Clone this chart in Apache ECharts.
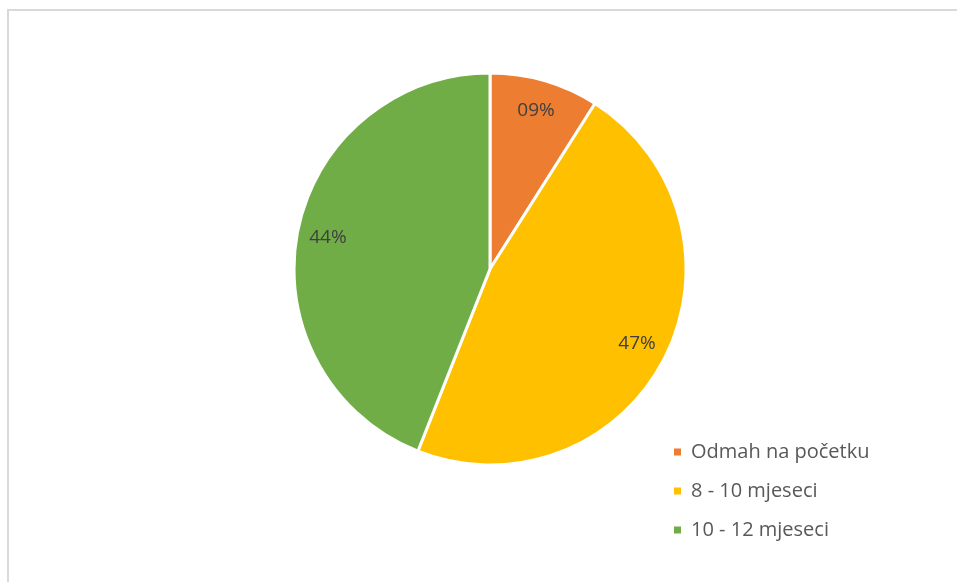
<!DOCTYPE html>
<html><head><meta charset="utf-8">
<script src="https://cdn.jsdelivr.net/npm/echarts@6/dist/echarts.min.js"></script>
<style>html,body{margin:0;padding:0;background:#fff}#c{width:957px;height:582px}</style>
</head><body><div id="c"></div>
<script>
const categories = ['Odmah na početku', '8 - 10 mjeseci', '10 - 12 mjeseci'];
const values = [9, 47, 44];
const colors = ['#ED7D31', '#FFC000', '#70AD47'];

const chart = echarts.init(document.getElementById('c'));
const data = categories.map((n, i) => ({ name: n, value: values[i], itemStyle: { color: colors[i] } }));
const font = 'Open Sans, Liberation Sans, sans-serif';
chart.setOption({
  animation: false,
  graphic: [
    { type: 'rect', shape: { x: 7, y: 9, width: 960, height: 2 }, style: { fill: '#d9d9d9' }, silent: true },
    { type: 'rect', shape: { x: 7, y: 9, width: 2, height: 600 }, style: { fill: '#d9d9d9' }, silent: true }
  ],
  legend: {
    orient: 'vertical', left: 667, top: 437, itemWidth: 9, itemHeight: 9, itemGap: 19,
    icon: 'rect',
    textStyle: { fontFamily: font, fontSize: 20, lineHeight: 20, color: '#595959', padding: [0, 0, 0, 4] },
    data: categories
  },
  series: [
    {
      type: 'pie', center: [490, 269], radius: [0, 196], startAngle: 90, clockwise: true,
      itemStyle: { borderColor: '#fff', borderWidth: 3 },
      label: { show: false }, labelLine: { show: false },
      data: data, silent: true
    },
    {
      type: 'pie', center: [490, 269], radius: [128, 196], startAngle: 90, clockwise: true,
      itemStyle: { color: 'rgba(0,0,0,0)' },
      label: { show: true, position: 'inside', fontFamily: font, fontSize: 19, color: '#404040',
        formatter: p => String(p.value).padStart(2, '0') + '%' },
      labelLine: { show: false },
      data: categories.map((n, i) => ({ name: n, value: values[i], itemStyle: { color: 'rgba(0,0,0,0)' } })),
      silent: true, legendHoverLink: false
    }
  ]
});
</script></body></html>
